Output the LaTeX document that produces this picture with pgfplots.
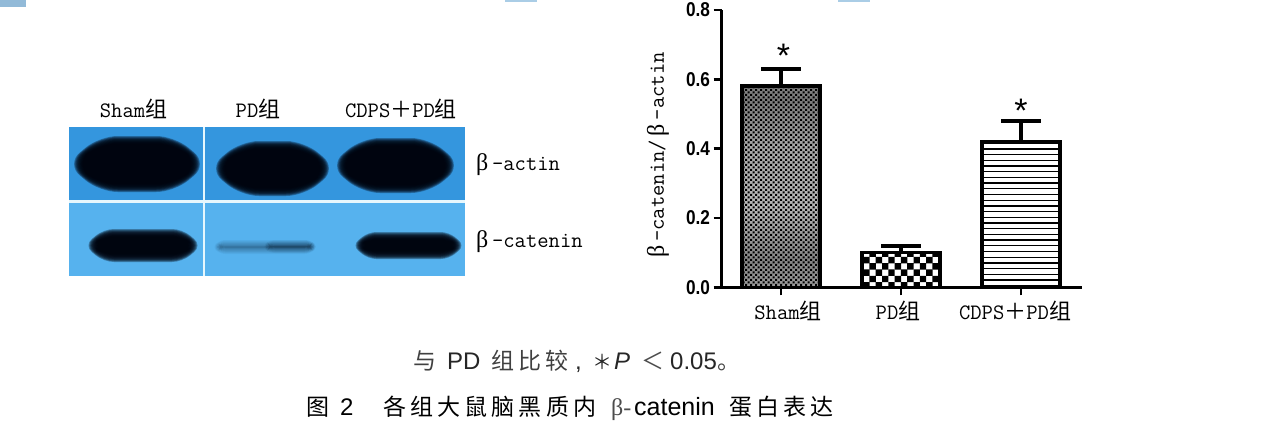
\documentclass[border=0pt]{standalone}
\usepackage{pgfplots}
\pgfplotsset{compat=1.18}
\usepackage{fontspec}
\usetikzlibrary{patterns}
\setmainfont{Liberation Sans}
\newfontfamily\cjk{Noto Sans CJK SC}
\newfontfamily\cjkspaced[LetterSpace=18]{Noto Sans CJK SC}
\newfontfamily\gr{Liberation Serif}
\newfontfamily\narrowbold[FakeStretch=0.86]{Liberation Sans Bold}
\newcommand\lab{\fontsize{22}{24}\selectfont\ttfamily}
\newcommand\zu{{\cjk\fontsize{22}{24}\selectfont 组}}
\newcommand\plusz{{\cjk\fontsize{22}{24}\selectfont ＋}}
\newcommand\bet{{\gr\fontsize{24}{24}\selectfont β}}
\newcommand\tl[1]{{\narrowbold\fontsize{20}{22}\selectfont #1}}
\definecolor{bluetop}{RGB}{52,150,222}
\definecolor{bluelow}{RGB}{86,178,238}
\definecolor{bandc}{RGB}{0,4,14}
\pgfdeclarepatternformonly{checkfine}{\pgfqpoint{-0.1pt}{-0.1pt}}{\pgfqpoint{5.1pt}{5.1pt}}{\pgfqpoint{5pt}{5pt}}{%
  \pgfpathrectangle{\pgfqpoint{0pt}{0pt}}{\pgfqpoint{2.2pt}{2.2pt}}%
  \pgfpathrectangle{\pgfqpoint{2.5pt}{2.5pt}}{\pgfqpoint{2.2pt}{2.2pt}}%
  \pgfusepath{fill}}
\pgfdeclarepatternformonly{checkcoarse}{\pgfqpoint{-0.1pt}{-0.1pt}}{\pgfqpoint{12.7pt}{12.7pt}}{\pgfqpoint{12.6pt}{12.6pt}}{%
  \pgfpathrectangle{\pgfqpoint{0pt}{0pt}}{\pgfqpoint{6.4pt}{6.4pt}}%
  \pgfpathrectangle{\pgfqpoint{6.3pt}{6.3pt}}{\pgfqpoint{6.4pt}{6.4pt}}%
  \pgfusepath{fill}}
\pgfdeclarepatternformonly{hstripes}{\pgfqpoint{-1pt}{0pt}}{\pgfqpoint{5pt}{5.7pt}}{\pgfqpoint{4pt}{5.7pt}}{%
  \pgfpathrectangle{\pgfqpoint{-1pt}{0pt}}{\pgfqpoint{6pt}{1.3pt}}%
  \pgfusepath{fill}}
\pgfdeclareverticalshading{shambands}{100bp}{%
  color(0bp)=(black!22); color(18bp)=(black!30); color(32bp)=(black!48);
  color(45bp)=(black!28); color(60bp)=(black!34); color(72bp)=(black!52);
  color(86bp)=(black!36); color(100bp)=(black!28)}
% x1,y1,x2,y2 = outer edge of the blurred band; #5 = opacity per layer; #6 = corner radius
\newcommand\band[6]{%
  \pgfplotsinvokeforeach{0,1,2,3,4,5,6,7,8,9,10,11}{%
    \addplot[draw=none,fill=bandc,fill opacity=#5,rounded corners=#6pt] coordinates
      {({(#1+#3)/2},{#2+##1*0.75})
       ({#3-0.6*(#4-#2)},{#2+##1*0.75})
       ({#3-##1*0.85},{(#2+#4)/2})
       ({#3-0.6*(#4-#2)},{#4-##1*0.75})
       ({#1+0.6*(#4-#2)},{#4-##1*0.75})
       ({#1+##1*0.85},{(#2+#4)/2})
       ({#1+0.6*(#4-#2)},{#2+##1*0.75})} -- cycle;
  }%
}
\begin{document}
\begin{tikzpicture}
\useasboundingbox (0pt,0pt) rectangle (1261pt,-446pt);
% scan fragments at the top edge
\fill[color={rgb,255:red,146;green,186;blue,216}] (0pt,0pt) rectangle (26pt,-7pt);
\fill[color={rgb,255:red,170;green,205;blue,230}] (505pt,0pt) rectangle (537pt,-2pt);
\fill[color={rgb,255:red,170;green,205;blue,230}] (838pt,0pt) rectangle (870pt,-2pt);

% western blot
\begin{axis}[at={(68.7pt,-275.7pt)},anchor=south west,scale only axis,width=396.3pt,height=148.7pt,
  hide axis,xmin=68.7,xmax=465,ymin=127,ymax=275.7,y dir=reverse,clip=true]
\addplot[draw=none,fill=bluetop] coordinates {(68.7,127) (465,127) (465,202) (68.7,202)} -- cycle;
\addplot[draw=none,fill=bluelow] coordinates {(68.7,202) (465,202) (465,275.7) (68.7,275.7)} -- cycle;
\band{66}{136}{208}{192}{0.3}{18}
\band{208}{141}{337}{196}{0.3}{18}
\band{329}{138}{462}{193}{0.3}{18}
\band{84}{229}{202}{262}{0.3}{10}
\band{352}{232}{465}{259}{0.3}{8}
\band{212}{240}{318}{254}{0.035}{5}
\band{262}{240}{318}{253}{0.035}{5}
\addplot[draw=none,fill=white!90!cyan] coordinates {(68.7,200.3) (465,200.3) (465,203.3) (68.7,203.3)} -- cycle;
\addplot[draw=none,fill=white!90!cyan] coordinates {(202.6,127) (204.6,127) (204.6,275.7) (202.6,275.7)} -- cycle;
\end{axis}

% blot labels
\node[anchor=center,inner sep=0pt] at (133.5pt,-109pt) {\lab Sham\zu};
\node[anchor=center,inner sep=0pt] at (258pt,-109pt) {\lab PD\zu};
\node[anchor=center,inner sep=0pt] at (401pt,-109pt) {\lab CDPS\plusz PD\zu};
\node[anchor=west,inner sep=0pt] at (476pt,-165pt) {\bet\lab\,–actin};
\node[anchor=west,inner sep=0pt] at (476pt,-242pt) {\bet\lab\,–catenin};

% bar chart
\begin{axis}[at={(721.5pt,-287.3pt)},anchor=south west,scale only axis,width=360.5pt,height=277.3pt,
  xmin=-0.496,xmax=2.508,ymin=0,ymax=0.8,clip=false,
  axis lines=left,axis line style={line width=2.8pt,-},
  xtick={0,1,2},
  xticklabels={\hspace*{14pt}\lab Sham\zu,\lab PD\zu\hspace*{6pt},\lab CDPS\plusz PD\zu\hspace*{12pt}},
  xticklabel style={yshift=-4pt,inner sep=2pt},
  ytick={0,0.2,0.4,0.6,0.8},
  yticklabels={\tl{0.0},\tl{0.2},\tl{0.4},\tl{0.6},\tl{0.8}},
  tick style={line width=2.4pt,black},
  tick align=outside,major tick length=8pt,
  ybar,bar width=77.5pt,
  error bars/error bar style={line width=3.8pt,black},
  error bars/error mark options={rotate=90,mark size=20pt,line width=3.8pt,black}]
\addplot[bar shift=0pt,draw=none,shading=shambands] coordinates {(0,0.58)};
\addplot[bar shift=0pt,draw=black,line width=3.6pt,pattern=checkfine,pattern color=black,
  error bars/.cd,y dir=plus,y explicit] coordinates {(0,0.58) +- (0,0.05)};
\addplot[bar shift=0pt,draw=black,line width=3.6pt,pattern=checkcoarse,pattern color=black,
  error bars/.cd,y dir=plus,y explicit] coordinates {(1,0.10) +- (0,0.02)};
\addplot[bar shift=0pt,draw=black,line width=3.6pt,pattern=hstripes,pattern color=black,
  error bars/.cd,y dir=plus,y explicit] coordinates {(2,0.42) +- (0,0.06)};
\node[inner sep=0pt,font=\fontsize{34}{34}\selectfont] at (axis cs:0.02,0.668) {*};
\node[inner sep=0pt,font=\fontsize{34}{34}\selectfont] at (axis cs:2.0,0.508) {*};
\end{axis}
\node[rotate=90,anchor=center,inner sep=0pt] at (658pt,-155pt) {\bet\lab\,–catenin/\,\bet\lab\,–actin};

% caption
\node[anchor=base west,inner sep=0pt,color=black!75] at (413pt,-370pt) {\cjk\fontsize{23}{26}\selectfont 与};
\node[anchor=base west,inner sep=0pt,color=black!85] at (447pt,-370pt) {\fontsize{24}{26}\selectfont PD};
\node[anchor=base west,inner sep=0pt,color=black!75] at (491pt,-370pt) {\cjkspaced\fontsize{23}{26}\selectfont 组比较};
\node[anchor=base west,inner sep=0pt,color=black!85] at (575pt,-370pt) {\fontsize{24}{26}\selectfont ,};
\node[anchor=base west,inner sep=0pt,color=black!85] at (592pt,-370pt) {\cjk\fontsize{20}{26}\selectfont ＊};
\node[anchor=base west,inner sep=0pt,color=black!85] at (614pt,-370pt) {\fontsize{24}{26}\selectfont\itshape P};
\node[anchor=base west,inner sep=0pt,color=black!70] at (641pt,-370pt) {\cjk\fontsize{23}{26}\selectfont ＜};
\node[anchor=base west,inner sep=0pt,color=black!85] at (670pt,-370pt) {\fontsize{24}{26}\selectfont 0.05};
\node[anchor=base west,inner sep=0pt,color=black!75] at (717pt,-370pt) {\cjk\fontsize{23}{26}\selectfont 。};

\node[anchor=base west,inner sep=0pt] at (306pt,-415pt) {\cjk\fontsize{23}{26}\selectfont 图};
\node[anchor=base west,inner sep=0pt] at (340pt,-415pt) {\fontsize{24}{26}\selectfont 2};
\node[anchor=base west,inner sep=0pt] at (383pt,-415pt) {\cjkspaced\fontsize{23}{26}\selectfont 各组大鼠脑黑质内};
\node[anchor=base west,inner sep=0pt,color=black!70] at (611pt,-415pt) {\gr\fontsize{24}{26}\selectfont β-};
\node[anchor=base west,inner sep=0pt] at (634pt,-415pt) {\fontsize{25}{26}\selectfont catenin};
\node[anchor=base west,inner sep=0pt] at (729pt,-415pt) {\cjkspaced\fontsize{23}{26}\selectfont 蛋白表达};
\end{tikzpicture}
\end{document}
